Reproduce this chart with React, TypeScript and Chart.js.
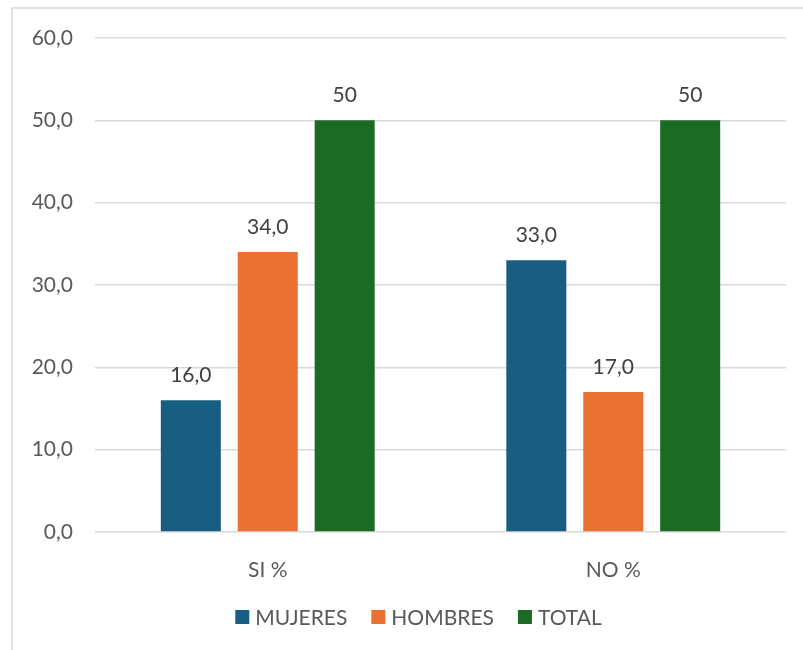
import { useEffect, useRef } from "react";
import { Chart, registerables } from "chart.js";

Chart.register(...registerables);

const categories = ["SI %", "NO %"];
const seriesNames = ["MUJERES", "HOMBRES", "TOTAL"];
const mujeres = [16, 33];
const hombres = [34, 17];
const total = [50, 50];
const mujeresLabels = ["16,0", "33,0"];
const hombresLabels = ["34,0", "17,0"];
const totalLabels = ["50", "50"];
const yMin = 0;
const yMax = 60;
const yStep = 10;
const seriesColors = ["#175E82", "#E97132", "#1B6B24"];

const FONT = "Lato, 'Open Sans', sans-serif";
const FS = 21;
const TEXT = "#595959";
const LABEL = "#404040";

export default function App() {
  const ref = useRef<HTMLCanvasElement | null>(null);

  useEffect(() => {
    const canvas = ref.current;
    if (!canvas) return;
    const valueLabels = [mujeresLabels, hombresLabels, totalLabels];

    const framePlugin = {
      id: "frame",
      beforeDraw(chart: any) {
        const ctx = chart.ctx;
        ctx.save();
        ctx.strokeStyle = "#d9d9d9";
        ctx.lineWidth = 1.5;
        ctx.strokeRect(12, 8, 820, 700);
        ctx.restore();
      },
    };

    const labelPlugin = {
      id: "valueLabels",
      afterDatasetsDraw(chart: any) {
        const ctx = chart.ctx;
        ctx.save();
        ctx.font = `${FS}px ${FONT}`;
        ctx.fillStyle = LABEL;
        ctx.textAlign = "center";
        ctx.textBaseline = "middle";
        chart.data.datasets.forEach((_: any, di: number) => {
          const meta = chart.getDatasetMeta(di);
          meta.data.forEach((el: any, i: number) => {
            ctx.fillText(valueLabels[di][i], el.x, el.y - 25);
          });
        });
        ctx.restore();
      },
    };

    const legendPlugin = {
      id: "customLegend",
      afterDraw(chart: any) {
        const ctx = chart.ctx;
        ctx.save();
        ctx.font = `${FS}px ${FONT}`;
        ctx.textBaseline = "middle";
        ctx.textAlign = "left";
        const box = 14;
        const gapText = 6;
        const gapItem = 24;
        const widths = seriesNames.map((n) => box + gapText + ctx.measureText(n).width);
        const totalW = widths.reduce((a, b) => a + b, 0) + gapItem * (seriesNames.length - 1);
        let x = 418.5 - totalW / 2;
        const cy = 617;
        seriesNames.forEach((n, i) => {
          ctx.fillStyle = seriesColors[i];
          ctx.fillRect(x, cy - box / 2, box, box);
          ctx.fillStyle = TEXT;
          ctx.fillText(n, x + box + gapText, cy + 1);
          x += widths[i] + gapItem;
        });
        ctx.restore();
      },
    };

    const chart = new Chart(canvas, {
      type: "bar",
      data: {
        labels: categories,
        datasets: [
          { label: seriesNames[0], data: mujeres, backgroundColor: seriesColors[0] },
          { label: seriesNames[1], data: hombres, backgroundColor: seriesColors[1] },
          { label: seriesNames[2], data: total, backgroundColor: seriesColors[2] },
        ],
      },
      options: {
        responsive: false,
        animation: false,
        layout: { padding: { top: 38, right: 17, left: 0, bottom: 0 } },
        datasets: {
          bar: { barPercentage: 0.78, categoryPercentage: 0.668 },
        },
        plugins: {
          legend: { display: false },
          tooltip: { enabled: false },
          title: { display: false },
        },
        scales: {
          x: {
            grid: { display: false },
            border: { display: false },
            ticks: { color: TEXT, font: { family: FONT, size: FS }, padding: 18 },
            afterFit(s: any) {
              s.height = 118;
            },
          },
          y: {
            min: yMin,
            max: yMax,
            grid: { color: "#d9d9d9", lineWidth: 1.5, drawTicks: false },
            border: { display: false },
            ticks: {
              stepSize: yStep,
              color: TEXT,
              font: { family: FONT, size: FS },
              padding: 22,
              callback: (v: any) => Number(v).toFixed(1).replace(".", ","),
            },
            afterFit(s: any) {
              s.width = 95;
            },
          },
        },
      },
      plugins: [framePlugin, labelPlugin, legendPlugin],
    });

    return () => chart.destroy();
  }, []);

  return (
    <div style={{ position: "absolute", left: 0, top: 0, width: 803, height: 650, background: "#fff" }}>
      <canvas ref={ref} width={803} height={650} style={{ display: "block" }} />
    </div>
  );
}
